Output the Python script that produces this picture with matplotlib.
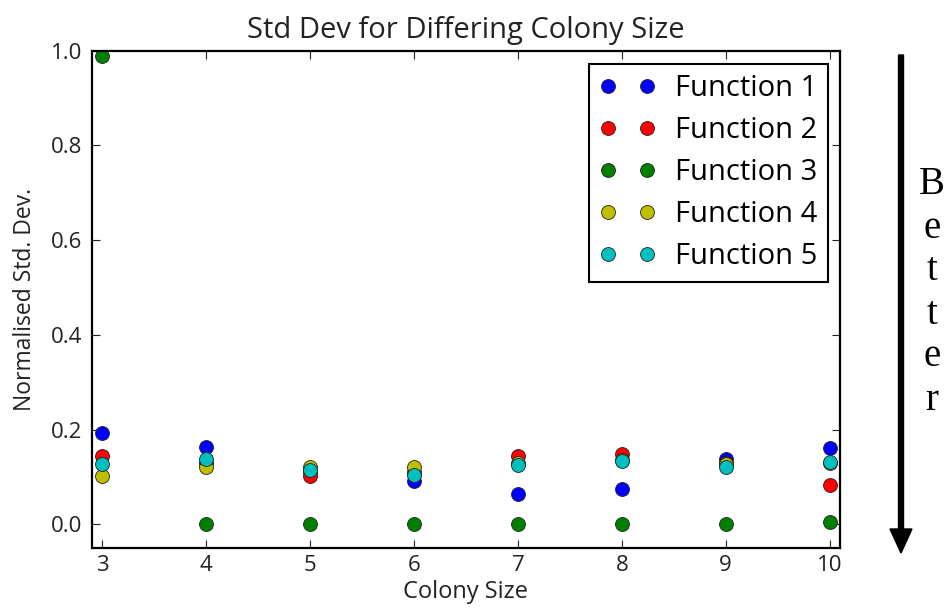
import matplotlib
matplotlib.use("Agg")
import matplotlib.pyplot as plt

plt.rcParams['font.family'] = ['Open Sans', 'DejaVu Sans']

colony_sizes = [3, 4, 5, 6, 7, 8, 9, 10]
f1 = [0.193, 0.164, 0.110, 0.091, 0.064, 0.075, 0.138, 0.162]
f2 = [0.144, 0.130, 0.102, 0.110, 0.145, 0.148, 0.130, 0.084]
f3 = [0.990, 0.000, 0.000, 0.000, 0.000, 0.000, 0.000, 0.005]
f4 = [0.102, 0.121, 0.120, 0.121, 0.130, 0.135, 0.128, 0.130]
f5 = [0.128, 0.137, 0.114, 0.104, 0.126, 0.133, 0.121, 0.132]
series = [f1, f2, f3, f4, f5]
labels = ["Function 1", "Function 2", "Function 3", "Function 4", "Function 5"]
colors = ["#0000ff", "#ff0000", "#007f00", "#bfbf00", "#00bfbf"]
xticks = [3, 4, 5, 6, 7, 8, 9, 10]
yticks = [0.0, 0.2, 0.4, 0.6, 0.8, 1.0]

fig = plt.figure(figsize=(9.47, 6.12), dpi=100)
ax = fig.add_axes([0.0971, 0.1046, 0.7899, 0.8124])

for vals, lab, col in zip(series, labels, colors):
    ax.plot(colony_sizes, vals, 'o', color=col, markeredgecolor='#202020',
            markeredgewidth=0.6, markersize=10, label=lab)

ax.set_xlim(2.9, 10.1)
ax.set_ylim(-0.05, 1.0)
ax.set_xticks(xticks)
ax.set_yticks(yticks)
ax.set_yticklabels([f"{v:.1f}" for v in yticks])
ax.tick_params(direction='in', top=True, right=True, labelsize=16, length=6,
               width=0.8, colors='#222222')
ax.tick_params(axis='y', pad=7)
ax.tick_params(axis='x', pad=5)
for s in ax.spines.values():
    s.set_linewidth(1.6)
ax.set_title("Std Dev for Differing Colony Size", fontsize=21, color='#222222', pad=9)
ax.set_xlabel("Colony Size", fontsize=17, color='#222222', labelpad=3)
ax.set_ylabel("Normalised Std. Dev.", fontsize=16.5, color='#222222', labelpad=10)

leg = ax.legend(loc='upper right', numpoints=2, fontsize=21, markerscale=1.0,
                fancybox=False, framealpha=1, edgecolor='black', handlelength=1.95,
                borderpad=0.35, labelspacing=0.45, handletextpad=0.67,
                borderaxespad=0, bbox_to_anchor=(0.984, 0.974))
leg.get_frame().set_linewidth(1.5)

# "Better" arrow
fig.patches.append(matplotlib.patches.FancyArrow(
    901 / 947, 1 - 55 / 612, 0, -(553 - 55) / 612, width=5 / 947,
    head_width=22 / 947, head_length=24 / 612, length_includes_head=True,
    color='black', transform=fig.transFigure, figure=fig))
for i, ch in enumerate("Better"):
    fig.text(932 / 947, 1 - (185 + 43 * i) / 612, ch, fontsize=28,
             family='Liberation Serif', ha='center', va='center')

fig.savefig("out.png", dpi=100)
